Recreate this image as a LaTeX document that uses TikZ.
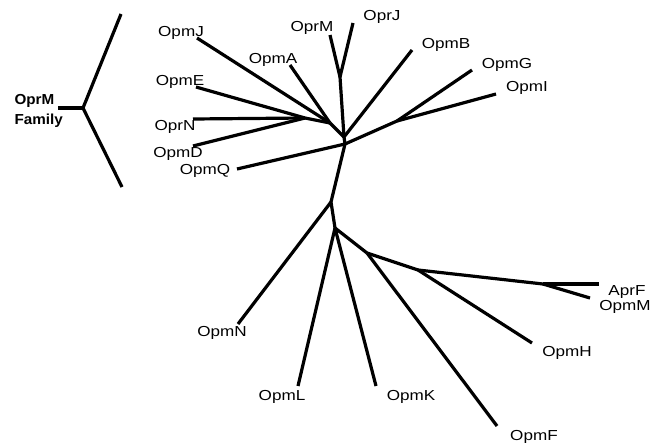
\documentclass[tikz,border=0pt]{standalone}
\usepackage{fontspec}
\newfontfamily\leaffont[FakeStretch=1.18]{Liberation Sans}
\newfontfamily\famfont[FakeStretch=1.05]{Liberation Sans}
\begin{document}
\begin{tikzpicture}[x=1pt,y=-1pt,line width=3.2pt,leaf/.style={font=\leaffont\fontsize{14.5}{16}\selectfont,inner sep=0pt},fam/.style={font=\famfont\bfseries\fontsize{14.5}{20}\selectfont,align=left,inner sep=0pt,anchor=west}]
        \useasboundingbox (0, 0) rectangle (652, 444);

        % family bracket
        \coordinate (ftop) at (121, 14);
        \coordinate (fjoin) at (83, 108);
        \coordinate (fbot) at (122, 187);
        \coordinate (fstub) at (58, 108);
        \node[fam] at (13, 111) (fam) {OprM\\Family};

        % inner points of the tree
        \coordinate (jl) at (305, 118);
        \coordinate (ju) at (330, 123);
        \coordinate (stem) at (340, 77);
        \coordinate (hubA) at (344, 137);
        \coordinate (hubB) at (345, 144);
        \coordinate (gi) at (397, 121);
        \coordinate (d1) at (331, 202);
        \coordinate (d2) at (335, 228);
        \coordinate (d3) at (367, 253);
        \coordinate (d4) at (418, 270);
        \coordinate (d5) at (543, 284);

        % leaf ends
        \coordinate (eJ) at (197, 38);
        \coordinate (eA) at (290, 65);
        \coordinate (eE) at (196, 87);
        \coordinate (eN) at (193, 119);
        \coordinate (eD) at (193, 146);
        \coordinate (eQ) at (237, 169);
        \coordinate (eRM) at (330, 35);
        \coordinate (eRJ) at (353, 23);
        \coordinate (eB) at (412, 50);
        \coordinate (eG) at (472, 70);
        \coordinate (eI) at (496, 94);
        \coordinate (emN) at (238, 324);
        \coordinate (eL) at (298, 386);
        \coordinate (eK) at (376, 386);
        \coordinate (eF) at (497, 426);
        \coordinate (eH) at (532, 343);
        \coordinate (eAF) at (599, 284);
        \coordinate (eM) at (590, 298);

        \node[leaf] at (181, 33) (opmJ) {OpmJ};
        \node[leaf] at (273, 60) (opmA) {OpmA};
        \node[leaf] at (180, 82) (opmE) {OpmE};
        \node[leaf] at (175, 127) (oprN) {OprN};
        \node[leaf] at (178, 154) (opmD) {OpmD};
        \node[leaf] at (205, 171) (opmQ) {OpmQ};
        \node[leaf] at (312, 28) (oprM) {OprM};
        \node[leaf] at (382, 17) (oprJ) {OprJ};
        \node[leaf] at (446, 45) (opmB) {OpmB};
        \node[leaf] at (507, 65) (opmG) {OpmG};
        \node[leaf] at (527, 88) (opmI) {OpmI};
        \node[leaf] at (222, 333) (opmN) {OpmN};
        \node[leaf] at (282, 397) (opmL) {OpmL};
        \node[leaf] at (411, 397) (opmK) {OpmK};
        \node[leaf] at (534, 437) (opmF) {OpmF};
        \node[leaf] at (567, 353) (opmH) {OpmH};
        \node[leaf] at (627, 292) (aprF) {AprF};
        \node[leaf] at (625, 307) (opmM) {OpmM};

        \path
            (ftop) edge (fjoin)
            (fjoin) edge (fbot)
            (fstub) edge (fjoin)
            (eJ) edge (ju)
            (eA) edge (ju)
            (eE) edge (jl)
            (eN) edge (jl)
            (eD) edge (jl)
            (jl) edge (ju)
            (ju) edge (hubA)
            (eRM) edge (stem)
            (eRJ) edge (stem)
            (stem) edge (hubA)
            (eB) edge (hubA)
            (hubA) edge (hubB)
            (eG) edge (gi)
            (eI) edge (gi)
            (gi) edge (hubB)
            (eQ) edge (hubB)
            (hubB) edge (d1)
            (d1) edge (emN)
            (d1) edge (d2)
            (d2) edge (eL)
            (d2) edge (eK)
            (d2) edge (d3)
            (d3) edge (eF)
            (d3) edge (d4)
            (d4) edge (eH)
            (d4) edge (d5)
            (d5) edge (eAF)
            (d5) edge (eM)
            ;
    \end{tikzpicture}
\end{document}
